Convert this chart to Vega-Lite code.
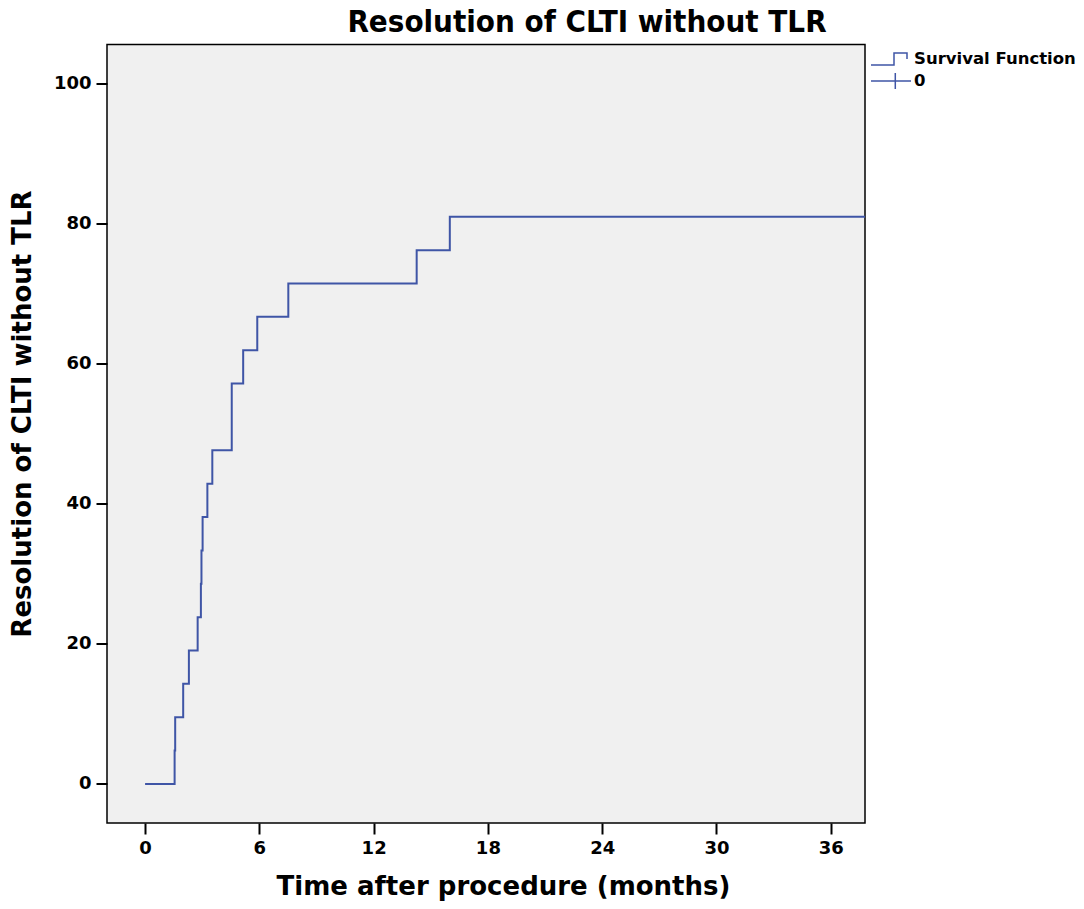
{
  "$schema": "https://vega.github.io/schema/vega-lite/v6.json",
  "autosize": "none",
  "width": 758,
  "height": 778.5,
  "padding": {"left": 107, "top": 44.5, "right": 219, "bottom": 86},
  "background": "white",
  "title": {
    "text": "Resolution of CLTI without TLR",
    "font": "DejaVu Sans Condensed, DejaVu Sans",
    "fontSize": 31,
    "fontWeight": "bold",
    "color": "black",
    "anchor": "middle",
    "dx": 101,
    "offset": 6
  },
  "config": {
    "view": {"fill": "#f0f0f0", "stroke": "black", "strokeWidth": 1.5},
    "axis": {
      "domain": false,
      "grid": false,
      "ticks": true,
      "tickColor": "black",
      "tickWidth": 2,
      "tickSize": 11,
      "labelFont": "DejaVu Sans",
      "labelFontSize": 18,
      "labelFontWeight": "bold",
      "labelColor": "black",
      "titleFont": "DejaVu Sans",
      "titleFontSize": 26,
      "titleFontWeight": "bold",
      "titleColor": "black"
    }
  },
  "data": {
    "values": [
      {"months": 0, "pct": 0, "series": "Survival Function"},
      {"months": 1.55, "pct": 4.76, "series": "Survival Function"},
      {"months": 1.58, "pct": 9.52, "series": "Survival Function"},
      {"months": 2.0, "pct": 14.29, "series": "Survival Function"},
      {"months": 2.3, "pct": 19.05, "series": "Survival Function"},
      {"months": 2.76, "pct": 23.81, "series": "Survival Function"},
      {"months": 2.93, "pct": 28.57, "series": "Survival Function"},
      {"months": 2.96, "pct": 33.33, "series": "Survival Function"},
      {"months": 3.02, "pct": 38.1, "series": "Survival Function"},
      {"months": 3.27, "pct": 42.86, "series": "Survival Function"},
      {"months": 3.53, "pct": 47.62, "series": "Survival Function"},
      {"months": 4.55, "pct": 57.14, "series": "Survival Function"},
      {"months": 5.15, "pct": 61.9, "series": "Survival Function"},
      {"months": 5.89, "pct": 66.67, "series": "Survival Function"},
      {"months": 7.52, "pct": 71.43, "series": "Survival Function"},
      {"months": 14.26, "pct": 76.19, "series": "Survival Function"},
      {"months": 16.0, "pct": 80.95, "series": "Survival Function"},
      {"months": 37.8, "pct": 80.95, "series": "Survival Function"}
    ]
  },
  "mark": {"type": "line", "interpolate": "step-after", "strokeWidth": 2, "clip": true},
  "encoding": {
    "x": {
      "field": "months",
      "type": "quantitative",
      "scale": {"domain": [-2, 37.8], "nice": false, "zero": false},
      "axis": {
        "values": [0, 6, 12, 18, 24, 30, 36],
        "title": "Time after procedure (months)",
        "labelPadding": 5,
        "titlePadding": 16,
        "titleX": 396
      }
    },
    "y": {
      "field": "pct",
      "type": "quantitative",
      "scale": {"domain": [-5.57, 105.54], "nice": false, "zero": false},
      "axis": {
        "values": [0, 20, 40, 60, 80, 100],
        "title": "Resolution of CLTI without TLR",
        "labelPadding": 5,
        "titlePadding": 18,
        "titleY": 369
      }
    },
    "color": {
      "field": "series",
      "type": "nominal",
      "scale": {"domain": ["Survival Function", "0"], "range": ["#3f55a6", "#3f55a6"]},
      "legend": {
        "title": null,
        "orient": "none",
        "legendX": 773,
        "legendY": 3.5,
        "padding": 0,
        "symbolSize": 400,
        "symbolStrokeWidth": 1.5,
        "rowPadding": 2,
        "labelOffset": 12,
        "labelLimit": 0,
        "labelFont": "DejaVu Sans",
        "labelFontSize": 16.5,
        "labelFontWeight": "bold",
        "labelColor": "black",
        "encode": {
          "symbols": {
            "update": {
              "shape": {"signal": "datum.value === '0' ? 'M-2,0H2M0.43,-0.8V0.8' : 'M-2,0.6H0.3V-0.6H1.6V0'"},
              "fill": {"value": "transparent"},
              "stroke": {"value": "#3f55a6"}
            }
          }
        }
      }
    }
  }
}
